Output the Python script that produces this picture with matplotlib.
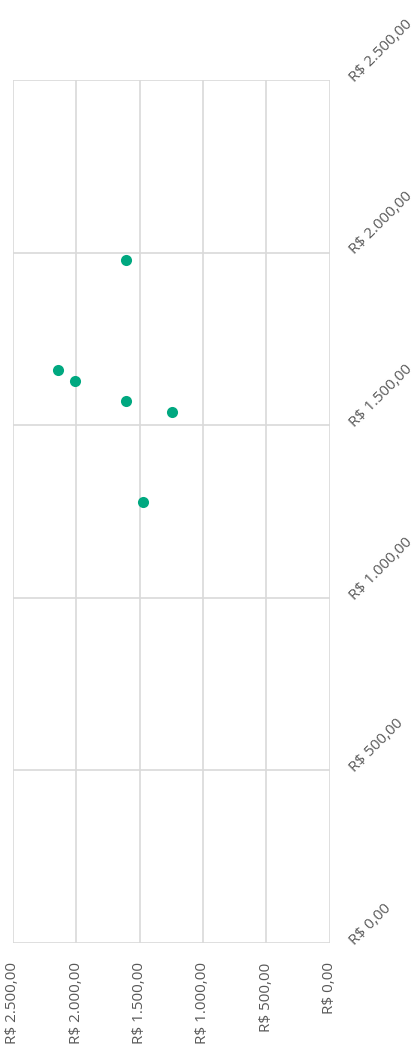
import matplotlib
matplotlib.use("Agg")
import matplotlib.pyplot as plt

x_values = [1607, 2142, 2013, 1605, 1242, 1471]
y_values = [1979, 1660, 1627, 1571, 1539, 1277]
ticks = [0, 500, 1000, 1500, 2000, 2500]

def brl(v, pos=None):
    s = f"{v:,.2f}"
    s = s.replace(",", "X").replace(".", ",").replace("X", ".")
    return f"R$ {s}"

plt.rcParams['font.family'] = ['Open Sans', 'DejaVu Sans']
fig = plt.figure(figsize=(4.2, 10.57), dpi=100)
W, H = 420, 1057
ax = fig.add_axes([13 / W, 1 - 943 / H, (329.5 - 13) / W, (943 - 80) / H])

ax.scatter(x_values, y_values, s=64, color="#00A880", zorder=3, linewidths=0)

ax.set_xlim(2500, 0)
ax.set_ylim(0, 2500)
ax.set_xticks(ticks)
ax.set_yticks(ticks)
ax.grid(True, color="#D9D9D9", linewidth=1.2)
for sp in ax.spines.values():
    sp.set_visible(False)
ax.tick_params(length=0)
ax.yaxis.tick_right()

ax.set_xticklabels([brl(t) for t in ticks], rotation=90, ha="center", va="top",
                   fontsize=11, color="#595959")
ax.tick_params(axis="x", pad=14)
ax.set_yticklabels([brl(t) for t in ticks], rotation=45, ha="left", va="center",
                   rotation_mode="anchor", fontsize=11, color="#595959")
ax.tick_params(axis="y", pad=16)

fig.savefig("out.png", dpi=100)
